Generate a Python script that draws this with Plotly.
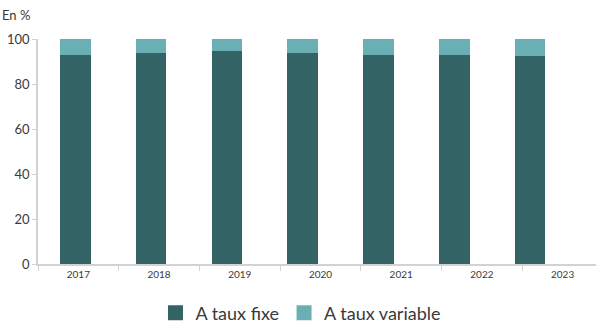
import plotly.graph_objects as go

years = ["2017", "2018", "2019", "2020", "2021", "2022", "2023"]
fixe = [93.1, 93.6, 94.5, 93.6, 93.1, 93.1, 92.3]
variable = [6.9, 6.4, 5.5, 6.4, 6.9, 6.9, 7.7]
yticks = [0, 20, 40, 60, 80, 100]

dark = "#346366"
light = "#6aafb3"
axis_col = "#d2d2d2"
txt = "#3a3a3a"
font = "Lato"

fig = go.Figure()
fig.add_trace(go.Bar(x=years, y=fixe, name="A taux fixe", marker_color=dark,
                     marker_line_width=0, width=0.405, xaxis="x", yaxis="y",
                     showlegend=False))
fig.add_trace(go.Bar(x=years, y=variable, name="A taux variable", marker_color=light,
                     marker_line_width=0, width=0.405, xaxis="x", yaxis="y",
                     showlegend=False))
# legend entries with larger square swatches
for nm, col in [("A taux fixe", dark), ("A taux variable", light)]:
    fig.add_trace(go.Scatter(x=[None], y=[None], mode="markers", name=nm,
                             marker=dict(symbol="square", size=15, color=col),
                             xaxis="x", yaxis="y"))
# invisible trace to carry the labelled category axis
fig.add_trace(go.Scatter(x=years, y=[None]*len(years), xaxis="x2", yaxis="y",
                         showlegend=False, hoverinfo="skip"))

fig.update_layout(
    width=596, height=325,
    margin=dict(l=38, r=0, t=39, b=61),
    barmode="stack",
    plot_bgcolor="white", paper_bgcolor="white",
    font=dict(family=font, color=txt),
    xaxis=dict(type="category", range=[-0.492, 6.869], visible=False, showgrid=False),
    xaxis2=dict(type="category", overlaying="x", side="bottom", range=[-0.5, 6.414],
                showline=True, linecolor=axis_col, linewidth=1.5,
                ticks="outside", tickson="boundaries", ticklen=5, tickcolor=axis_col,
                showgrid=False, tickfont=dict(size=10, color=txt)),
    yaxis=dict(range=[0, 100], tickvals=yticks, showgrid=False, zeroline=False,
               showline=True, linecolor=axis_col, linewidth=1.5,
               ticks="outside", ticklen=4, tickcolor=axis_col,
               tickfont=dict(size=13, color=txt)),
    legend=dict(orientation="h", x=0.505, xanchor="center", xref="container",
                y=0.037, yanchor="middle", yref="container",
                font=dict(size=18, color=txt), itemsizing="trace", traceorder="normal"),
)
fig.layout.annotations = [dict(text="En %", x=-38/558, y=1 + 24/225, xref="paper", yref="paper",
                               xanchor="left", yanchor="middle", showarrow=False,
                               font=dict(size=13, color=txt))]
fig.write_html("out.html")
